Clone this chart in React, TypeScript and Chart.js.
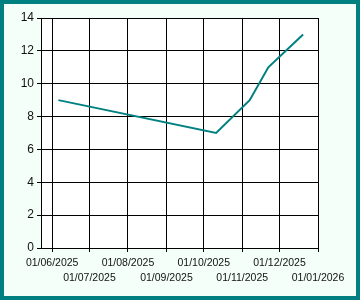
import React, { useEffect, useRef } from 'react';
import { Chart, registerables } from 'chart.js';

Chart.register(...registerables);

// ---- Data ----
const pointDates = ['2025-06-06', '2025-10-11', '2025-11-07', '2025-11-22', '2025-12-20'];
const seriesValues = [9, 7, 9, 11, 13];
const tickDates = [
  '2025-06-01', '2025-07-01', '2025-08-01', '2025-09-01',
  '2025-10-01', '2025-11-01', '2025-12-01', '2026-01-01',
];
const axisStartDate = '2025-05-23';
const yMin = 0;
const yMax = 14;
const yStep = 2;

const DAY = 86400000;
const BASE = Date.UTC(2025, 5, 1);
const toDay = (s: string) => {
  const [y, m, d] = s.split('-').map(Number);
  return Math.round((Date.UTC(y, m - 1, d) - BASE) / DAY);
};
const pad2 = (n: number) => (n < 10 ? '0' + n : '' + n);
const fmt = (n: number) => {
  const dt = new Date(BASE + n * DAY);
  return pad2(dt.getUTCDate()) + '/' + pad2(dt.getUTCMonth() + 1) + '/' + dt.getUTCFullYear();
};

const tickDays = tickDates.map(toDay);

const whiteArea = {
  id: 'whiteArea',
  beforeDraw(chart: any) {
    const { ctx, chartArea } = chart;
    ctx.save();
    ctx.fillStyle = '#ffffff';
    ctx.fillRect(chartArea.left, chartArea.top, chartArea.right - chartArea.left, chartArea.bottom - chartArea.top);
    ctx.restore();
  },
};

export default function App() {
  const ref = useRef<HTMLCanvasElement | null>(null);
  useEffect(() => {
    document.body.style.margin = '0';
    if (!ref.current) return;
    const chart = new Chart(ref.current, {
      type: 'line',
      data: {
        datasets: [
          {
            data: pointDates.map((d, i) => ({ x: toDay(d), y: seriesValues[i] })),
            borderColor: '#008080',
            borderWidth: 2,
            pointRadius: 0,
            fill: false,
            tension: 0,
          },
        ],
      },
      options: {
        animation: false,
        responsive: false,
        events: [],
        layout: { padding: { left: 16, top: 14, right: 38, bottom: 0 } },
        plugins: { legend: { display: false }, tooltip: { enabled: false } },
        scales: {
          x: {
            type: 'linear',
            min: toDay(axisStartDate),
            max: tickDays[tickDays.length - 1],
            afterBuildTicks: (s: any) => {
              s.ticks = tickDays.map((v) => ({ value: v }));
            },
            afterFit: (s: any) => {
              s.height = 48;
              s.paddingLeft = 0;
              s.paddingRight = 0;
            },
            grid: { color: '#000', lineWidth: 1, tickLength: 4 },
            border: { color: '#000', width: 1 },
            ticks: {
              autoSkip: false,
              maxRotation: 0,
              minRotation: 0,
              padding: 3,
              color: '#111',
              font: { family: '"Liberation Sans", Arial, sans-serif', size: 10.5, lineHeight: 1.467 },
              callback: (value: any) => {
                const idx = tickDays.indexOf(Number(value));
                const label = fmt(Number(value));
                return idx % 2 === 1 ? ['', label] : label;
              },
            },
          },
          y: {
            min: yMin,
            max: yMax,
            afterFit: (s: any) => {
              s.width = 21;
            },
            grid: { color: '#000', lineWidth: 1, tickLength: 4 },
            border: { color: '#000', width: 1 },
            ticks: {
              stepSize: yStep,
              padding: 3,
              color: '#111',
              font: { family: '"Liberation Sans", Arial, sans-serif', size: 12 },
            },
          },
        },
      },
      plugins: [whiteArea],
    } as any);
    return () => chart.destroy();
  }, []);
  return (
    <div
      style={{
        width: 360,
        height: 300,
        boxSizing: 'border-box',
        border: '4px solid #008080',
        background: '#f5fffa',
      }}
    >
      <canvas ref={ref} width={352} height={292} style={{ display: 'block', width: 352, height: 292 }} />
    </div>
  );
}
